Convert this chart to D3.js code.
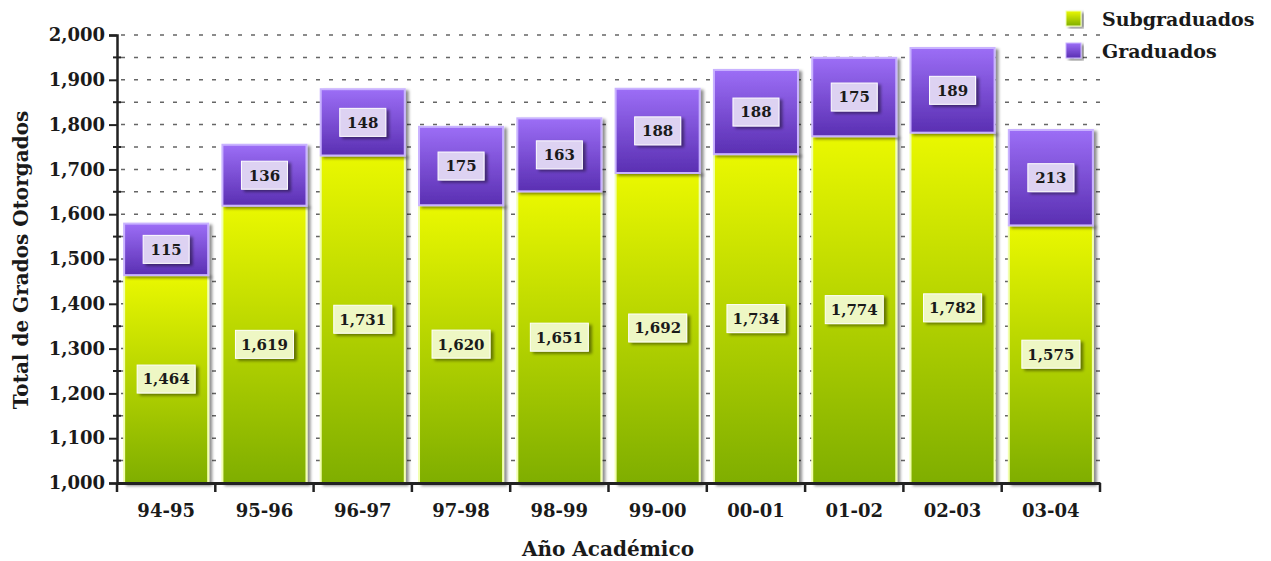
<!DOCTYPE html>
<html>
<head>
<meta charset="utf-8">
<script src="https://cdn.jsdelivr.net/npm/d3@7"></script>
<style>
  body { margin: 0; background: #fff; }
  text { font-family: "DejaVu Serif", "Liberation Serif", serif; font-weight: bold; fill: #1a1a1a; }
</style>
</head>
<body>
<div id="chart"></div>
<script>
// data
var years = ["94-95", "95-96", "96-97", "97-98", "98-99", "99-00", "00-01", "01-02", "02-03", "03-04"];
var subgraduados = [1464, 1619, 1731, 1620, 1651, 1692, 1734, 1774, 1782, 1575];
var graduados = [115, 136, 148, 175, 163, 188, 188, 175, 189, 213];
var seriesNames = ["Subgraduados", "Graduados"];

var svgWidth = 1271;
var svgHeight = 561;

var svg = d3.select("#chart")
  .append("svg")
  .attr("width", svgWidth)
  .attr("height", svgHeight);

var defs = svg.append("defs");

var gGreen = defs.append("linearGradient").attr("id", "gGreen")
  .attr("x1", 0).attr("y1", 0).attr("x2", 0).attr("y2", 1);
gGreen.append("stop").attr("offset", "0%").attr("stop-color", "#eaf800");
gGreen.append("stop").attr("offset", "100%").attr("stop-color", "#7fae00");

var gPurple = defs.append("linearGradient").attr("id", "gPurple")
  .attr("x1", 0).attr("y1", 0).attr("x2", 0).attr("y2", 1);
gPurple.append("stop").attr("offset", "0%").attr("stop-color", "#9c6ef6");
gPurple.append("stop").attr("offset", "100%").attr("stop-color", "#5a2fb2");

var shadow = defs.append("filter").attr("id", "shadow")
  .attr("x", "-10%").attr("y", "-10%").attr("width", "130%").attr("height", "130%");
shadow.append("feDropShadow").attr("dx", 3).attr("dy", 2).attr("stdDeviation", 1.5)
  .attr("flood-color", "#000").attr("flood-opacity", 0.45);

var x = d3.scaleBand()
  .domain(years)
  .range([117, 1100])
  .paddingInner(0.145)
  .paddingOuter(0.0725);

var y = d3.scaleLinear()
  .domain([1000, 2000])
  .range([483, 35]);

// dotted gridlines every 50
var gridVals = d3.range(1050, 2001, 50);
svg.append("g").selectAll("line")
  .data(gridVals)
  .enter()
  .append("line")
  .attr("x1", 121).attr("x2", 1100)
  .attr("y1", d => y(d)).attr("y2", d => y(d))
  .attr("stroke", "#666")
  .attr("stroke-width", 1.5)
  .attr("stroke-dasharray", "4,9");

// bars
var bars = svg.append("g").selectAll("g")
  .data(years)
  .enter()
  .append("g");

bars.append("rect")
  .attr("x", d => x(d))
  .attr("y", (d, i) => y(subgraduados[i]))
  .attr("width", x.bandwidth())
  .attr("height", (d, i) => y(1000) - y(subgraduados[i]))
  .attr("fill", "url(#gGreen)")
  .attr("stroke", "#f2ffb0")
  .attr("stroke-width", 2)
  .attr("filter", "url(#shadow)");

bars.append("rect")
  .attr("x", d => x(d))
  .attr("y", (d, i) => y(subgraduados[i] + graduados[i]))
  .attr("width", x.bandwidth())
  .attr("height", (d, i) => y(subgraduados[i]) - y(subgraduados[i] + graduados[i]))
  .attr("fill", "url(#gPurple)")
  .attr("stroke", "#c9b3ff")
  .attr("stroke-width", 2)
  .attr("filter", "url(#shadow)");

// value labels
function addLabel(g, cx, cy, txt, w, fill) {
  g.append("rect")
    .attr("x", cx - w / 2).attr("y", cy - 14)
    .attr("width", w).attr("height", 28)
    .attr("fill", fill)
    .attr("stroke", "#fff")
    .attr("stroke-width", 1)
    .attr("filter", "url(#shadow)");
  g.append("text")
    .attr("x", cx).attr("y", cy)
    .attr("dy", "0.36em")
    .attr("text-anchor", "middle")
    .style("font-size", "15px")
    .text(txt);
}

var fmt = d3.format(",");
bars.each(function(d, i) {
  var g = d3.select(this);
  var cx = x(d) + x.bandwidth() / 2;
  addLabel(g, cx, y((1000 + subgraduados[i]) / 2), fmt(subgraduados[i]), 58, "#eef7c4");
  addLabel(g, cx, y(subgraduados[i] + graduados[i] / 2), fmt(graduados[i]), 46, "#ddd2f2");
});

// y axis
var leftAxis = d3.axisLeft(y)
  .tickValues(d3.range(1000, 2001, 100))
  .tickFormat(d3.format(","))
  .tickSize(8)
  .tickPadding(4);

var yAxisG = svg.append("g")
  .attr("transform", "translate(117,0)")
  .call(leftAxis);
yAxisG.select(".domain").attr("stroke", "#222").attr("stroke-width", 2.5);
yAxisG.selectAll(".tick line").attr("stroke", "#222").attr("stroke-width", 2);
yAxisG.selectAll(".tick text").style("font-size", "18px").attr("fill", "#1a1a1a");

// minor y ticks
svg.append("g").selectAll("line")
  .data(d3.range(1050, 2000, 100))
  .enter()
  .append("line")
  .attr("x1", 113).attr("x2", 121)
  .attr("y1", d => y(d)).attr("y2", d => y(d))
  .attr("stroke", "#222")
  .attr("stroke-width", 2);

// x axis
var bottomAxis = d3.axisBottom(x).tickSize(0).tickPadding(21);
var xAxisG = svg.append("g")
  .attr("transform", "translate(0,483)")
  .call(bottomAxis);
xAxisG.select(".domain").attr("stroke", "#222").attr("stroke-width", 3);
xAxisG.selectAll(".tick text").style("font-size", "18px").attr("fill", "#1a1a1a");

// band boundary ticks
var step = x.step();
svg.append("g").selectAll("line")
  .data(d3.range(years.length + 1))
  .enter()
  .append("line")
  .attr("x1", d => 117 + d * step).attr("x2", d => 117 + d * step)
  .attr("y1", 483).attr("y2", 492)
  .attr("stroke", "#222")
  .attr("stroke-width", 2.5);

// axis titles
svg.append("text")
  .attr("transform", "translate(28,260) rotate(-90)")
  .attr("text-anchor", "middle")
  .style("font-size", "20px")
  .text("Total de Grados Otorgados");

svg.append("text")
  .attr("x", 608)
  .attr("y", 556)
  .attr("text-anchor", "middle")
  .style("font-size", "20px")
  .text("Año Académico");

// legend
var legend = svg.append("g").selectAll("g")
  .data(seriesNames)
  .enter()
  .append("g")
  .attr("transform", (d, i) => `translate(1066, ${11 + i * 32})`);

legend.append("rect")
  .attr("width", 15).attr("height", 15)
  .attr("fill", (d, i) => i == 0 ? "url(#gGreen)" : "url(#gPurple)")
  .attr("stroke", (d, i) => i == 0 ? "#f2ffb0" : "#c9b3ff")
  .attr("filter", "url(#shadow)");

legend.append("text")
  .attr("x", 36)
  .attr("y", 8)
  .attr("dy", "0.35em")
  .style("font-size", "19px")
  .text(d => d);
</script>
</body>
</html>
